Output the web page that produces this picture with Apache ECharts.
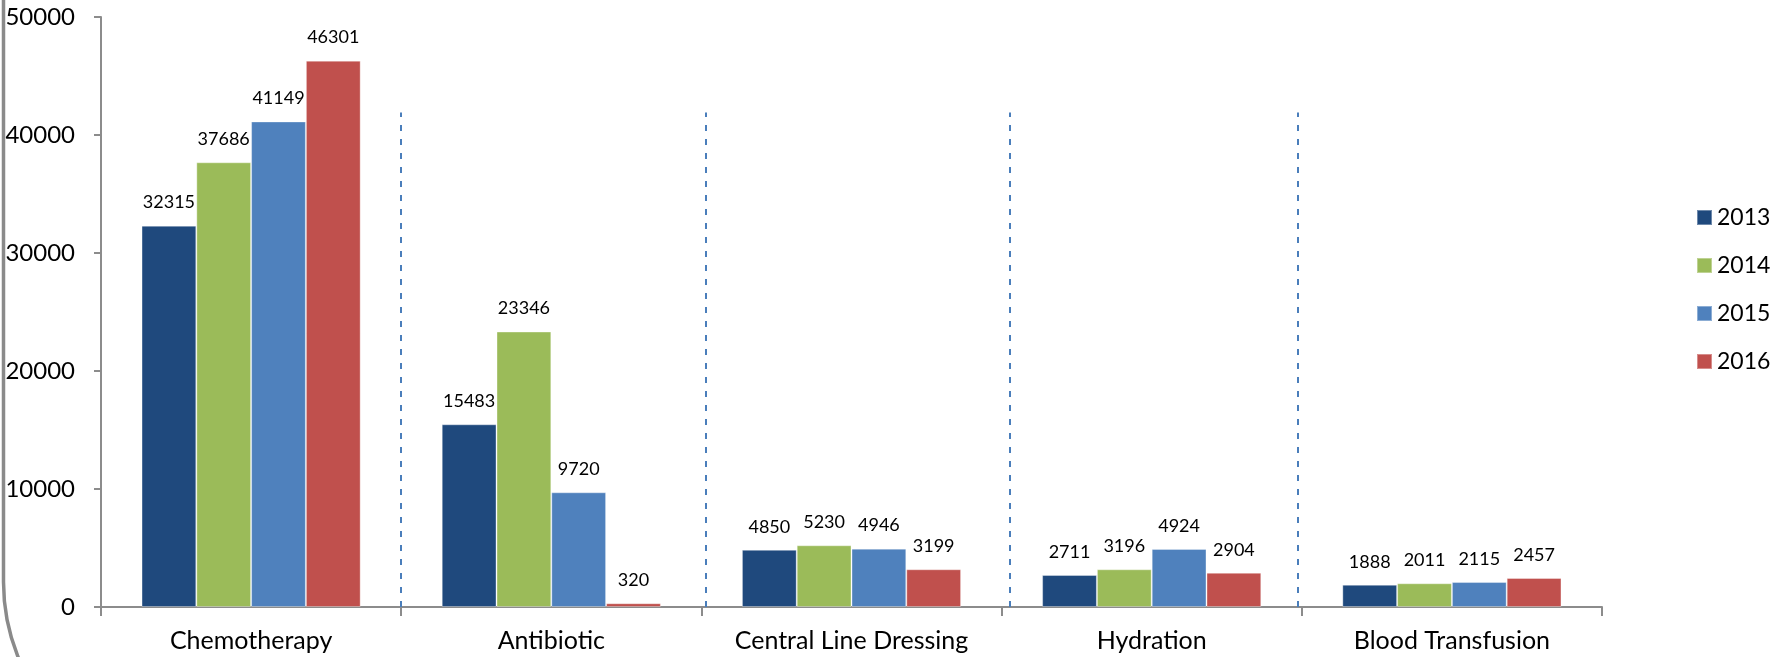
<!DOCTYPE html>
<html>
<head>
<meta charset="utf-8">
<script src="https://cdn.jsdelivr.net/npm/echarts@6/dist/echarts.min.js"></script>
<style>
html,body{margin:0;padding:0;background:#fff;}
#chart{width:1785px;height:657px;}
</style>
</head>
<body>
<div id="chart"></div>
<script>
const categories = ['Chemotherapy', 'Antibiotic', 'Central Line Dressing', 'Hydration', 'Blood Transfusion'];
const years = ['2013', '2014', '2015', '2016'];
const values2013 = [32315, 15483, 4850, 2711, 1888];
const values2014 = [37686, 23346, 5230, 3196, 2011];
const values2015 = [41149, 9720, 4946, 4924, 2115];
const values2016 = [46301, 320, 3199, 2904, 2457];
const yTicks = [0, 10000, 20000, 30000, 40000, 50000];
// separator dashed lines, in category units (0..5) along the x axis
const separatorPositions = [1.0, 2.013, 3.026, 3.985];
const separatorTop = 41900;

const colors = ['#1F497D', '#9BBB59', '#4F81BD', '#C0504D'];
const seriesValues = [values2013, values2014, values2015, values2016];
const FONT = 'Lato';

const chart = echarts.init(document.getElementById('chart'), null, {renderer: 'canvas'});

const barSeries = years.map((y, i) => ({
  name: y,
  type: 'bar',
  data: seriesValues[i],
  barGap: '0%',
  barCategoryGap: '27%',
  itemStyle: {color: colors[i], borderColor: 'rgba(255,255,255,0.35)', borderWidth: 1},
  label: {
    show: true,
    position: 'top',
    distance: 14,
    color: '#000',
    fontFamily: FONT,
    fontSize: 18
  },
  emphasis: {disabled: true}
}));

const sepSeries = {
  name: 'sep',
  type: 'scatter',
  xAxisIndex: 1,
  data: [[0, 0]],
  symbolSize: 0,
  silent: true,
  markLine: {
    silent: true,
    symbol: 'none',
    animation: false,
    label: {show: false},
    lineStyle: {color: '#4A7EBB', width: 2, type: [6, 8]},
    data: separatorPositions.map(p => [{coord: [p, 0]}, {coord: [p, separatorTop]}])
  }
};

chart.setOption({
  animation: false,
  backgroundColor: '#fff',
  color: colors,
  textStyle: {fontFamily: FONT},
  grid: {left: 101, right: 183, top: 17, bottom: 50, containLabel: false},
  legend: {
    data: years,
    orient: 'vertical',
    left: 1691,
    top: 201,
    itemWidth: 15,
    itemHeight: 15,
    itemGap: 25,
    icon: 'rect',
    textStyle: {fontFamily: FONT, fontSize: 23, color: '#000'}
  },
  graphic: [{
    type: 'rect',
    silent: true,
    shape: {x: 3.5, y: -400, width: 3000, height: 1182, r: 200},
    style: {fill: 'none', stroke: '#8a8a8a', lineWidth: 3.5}
  }],
  xAxis: [{
    type: 'category',
    data: categories,
    axisLine: {show: true, lineStyle: {color: '#8c8c8c', width: 2}},
    axisTick: {show: true, length: 9, lineStyle: {color: '#8c8c8c', width: 2}},
    axisLabel: {color: '#000', fontFamily: FONT, fontSize: 25, margin: 21, interval: 0},
    splitLine: {show: false}
  }, {
    type: 'value',
    min: 0,
    max: 5,
    show: false
  }],
  yAxis: {
    type: 'value',
    min: yTicks[0],
    max: yTicks[yTicks.length - 1],
    interval: yTicks[1] - yTicks[0],
    axisLine: {show: true, lineStyle: {color: '#8c8c8c', width: 2}},
    axisTick: {show: true, length: 7, lineStyle: {color: '#8c8c8c', width: 2}},
    axisLabel: {color: '#000', fontFamily: FONT, fontSize: 24, margin: 26, formatter: v => String(v)},
    splitLine: {show: false}
  },
  series: [...barSeries, sepSeries]
});
</script>
</body>
</html>
